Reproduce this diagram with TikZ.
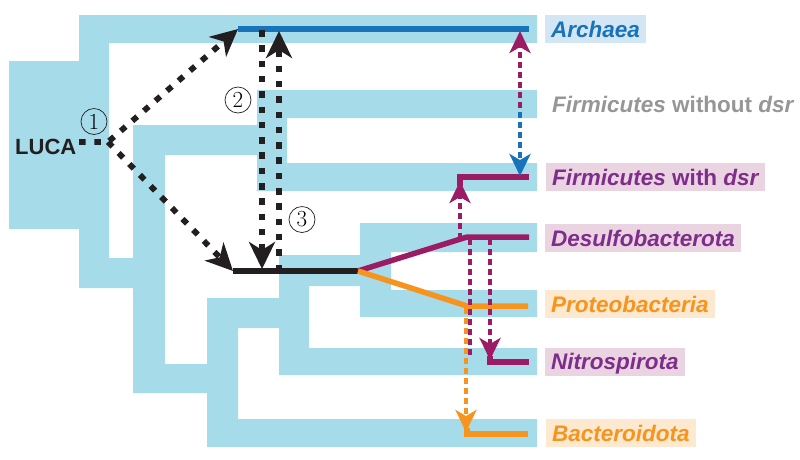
\documentclass[tikz,border=0pt]{standalone}
\usepackage{fontspec}
\setsansfont{Liberation Sans}
\usetikzlibrary{arrows.meta}
\definecolor{tree}{RGB}{166,220,234}
\definecolor{arch}{RGB}{24,115,186}
\definecolor{archbg}{RGB}{211,230,243}
\definecolor{plum}{RGB}{155,28,100}
\definecolor{violettxt}{RGB}{126,46,138}
\definecolor{violetbg}{RGB}{234,212,226}
\definecolor{orng}{RGB}{247,148,29}
\definecolor{orngbg}{RGB}{253,232,208}
\definecolor{greytxt}{RGB}{150,150,150}
\definecolor{ink}{RGB}{35,31,32}
\begin{document}
\begin{tikzpicture}[x=1pt,y=-1pt,
  lab/.style={anchor=west, font=\fontsize{22.5}{24}\selectfont\sffamily\bfseries\itshape,
    inner xsep=6pt, inner ysep=0pt, text height=22pt, text depth=6pt},
  solidline/.style={line width=5.5pt, line join=miter},
  dotline/.style={draw=ink, line width=5.8pt, dash pattern=on 6.5pt off 8.8pt},
  bigtip/.style={-{Stealth[length=27pt,width=26pt,inset=8pt]}},
  dashline/.style={line width=3.8pt, dash pattern=on 6pt off 4pt},
  smalltip/.style={-{Stealth[length=22pt,width=21pt,inset=6pt]}},
  circnum/.style={circle, draw=ink, line width=0.7pt, minimum size=26pt, inner sep=0pt,
    font=\fontsize{23}{23}\selectfont\rmfamily}
]
\useasboundingbox (0,0) rectangle (800,459);
% light blue tree
\fill[tree]
 (9,61) rectangle (109,229)
 (79,15) rectangle (537,43)
 (79,15) rectangle (109,288)
 (79,258) rectangle (165,288)
 (133,125) rectangle (165,393)
 (133,125) rectangle (287,155)
 (257,90) rectangle (287,191)
 (257,90) rectangle (537,118)
 (257,163) rectangle (537,191)
 (133,364) rectangle (238,393)
 (207,298) rectangle (238,447)
 (207,419) rectangle (537,447)
 (207,298) rectangle (309,328)
 (279,255) rectangle (309,375)
 (279,348) rectangle (537,375)
 (279,255) rectangle (391,286)
 (360,223) rectangle (391,317)
 (360,223) rectangle (537,252)
 (360,290) rectangle (537,317);

% coordinates
\coordinate (fork) at (108,142);
\coordinate (archL) at (238,29);
\coordinate (archR) at (529,29);
\coordinate (blkL) at (233,271);
\coordinate (split) at (358,271);
\coordinate (desK) at (467,237);
\coordinate (desR) at (529,237);
\coordinate (proK) at (467,306);
\coordinate (proR) at (528,306);
\coordinate (fwK) at (460,177);
\coordinate (fwB) at (460,186);
\coordinate (fwR) at (529,177);
\coordinate (niK) at (490,362);
\coordinate (niB) at (490,356);
\coordinate (niR) at (529,362);
\coordinate (baK) at (467,434);
\coordinate (baB) at (467,428);
\coordinate (baR) at (528,434);

% solid coloured lines
\draw[solidline, arch] (archL) -- (archR);
\draw[solidline, ink] (blkL) -- (split);
\draw[solidline, plum] (split) -- (desK) -- (desR);
\draw[solidline, orng] (split) -- (proK) -- (proR);
\draw[solidline, plum] (fwB) -- (fwK) -- (fwR);
\draw[solidline, plum] (niB) -- (niK) -- (niR);
\draw[solidline, orng] (baB) -- (baK) -- (baR);

% dashed coloured arrows
\coordinate (d1s) at (460,239);
\coordinate (d1e) at (460,181);
\coordinate (d2s) at (490,239);
\coordinate (d2e) at (490,360);
\coordinate (d3s) at (470,239);
\coordinate (d3e) at (470,357);
\coordinate (d4s) at (466,308);
\coordinate (d4e) at (466,432);
\coordinate (d5s) at (520,108);
\coordinate (d5e) at (520,31);
\coordinate (d6s) at (520,92);
\coordinate (d6e) at (520,176);
\draw[dashline, orng, smalltip] (d4s) -- (d4e);
\draw[dashline, plum] (d3s) -- (d3e);
\draw[dashline, plum, smalltip] (d1s) -- (d1e);
\draw[dashline, plum, smalltip] (d2s) -- (d2e);
\draw[dashline, arch, smalltip] (d6s) -- (d6e);
\draw[dashline, plum, smalltip] (d5s) -- (d5e);

% black dotted arrows
\node[anchor=base west, inner sep=0pt, text=ink,
  font=\fontsize{22}{24}\selectfont\sffamily\bfseries] (luca) at (15,154) {LUCA};
\coordinate (lucaend) at (79,142);
\draw[dotline, bigtip] (lucaend) -- (fork) -- (archL);
\draw[dotline, bigtip] (fork) -- (blkL);
\coordinate (v2s) at (262,30);
\coordinate (v2e) at (262,269);
\coordinate (v3s) at (279,271);
\coordinate (v3e) at (279,31);
\draw[dotline, bigtip] (v2s) -- (v2e);
\draw[dotline, bigtip] (v3s) -- (v3e);

% circled numbers
\node[circnum] (n1) at (94,121.5) {1};
\node[circnum] (n2) at (238,100) {2};
\node[circnum] (n3) at (302,219.5) {3};

% labels
\node[lab, text=arch, fill=archbg] (archaea) at (545,29) {Archaea};
\node[lab, text=greytxt] (firmwo) at (546,104) {Firmicutes \textup{without} dsr};
\node[lab, text=violettxt, fill=violetbg] (firmw) at (546,177) {Firmicutes \textup{with} dsr};
\node[lab, text=violettxt, fill=violetbg] (desulfo) at (545,238) {Desulfobacterota};
\node[lab, text=orng, fill=orngbg] (proteo) at (545,304) {Proteobacteria};
\node[lab, text=violettxt, fill=violetbg] (nitro) at (545,361.5) {Nitrospirota};
\node[lab, text=orng, fill=orngbg] (bactero) at (546,433) {Bacteroidota};
\end{tikzpicture}
\end{document}
